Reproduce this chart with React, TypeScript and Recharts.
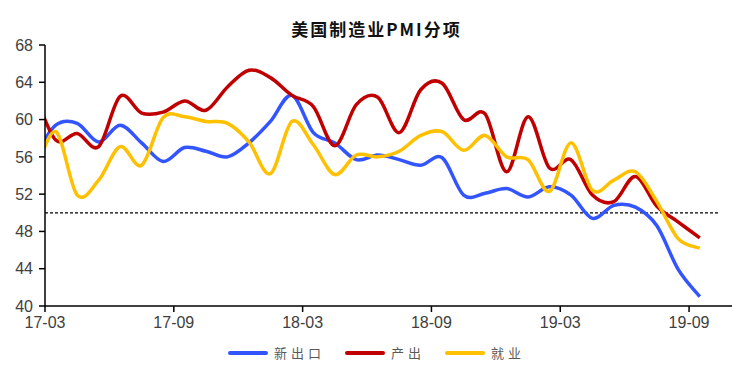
import React from 'react'
import { LineChart, Line, XAxis, YAxis, ReferenceLine } from 'recharts'

// monthly, Feb-17 .. Sep-19 (the Feb-17 point sits left of the axis and is clipped)
const months = [
  '17-02', '17-03', '17-04', '17-05', '17-06', '17-07', '17-08', '17-09', '17-10', '17-11', '17-12',
  '18-01', '18-02', '18-03', '18-04', '18-05', '18-06', '18-07', '18-08', '18-09', '18-10', '18-11', '18-12',
  '19-01', '19-02', '19-03', '19-04', '19-05', '19-06', '19-07', '19-08', '19-09',
]
const newExport = [
  56.0, 59.4, 59.6, 57.6, 59.4, 57.5, 55.5, 57.0, 56.6, 56.0, 57.5,
  59.8, 62.6, 58.6, 57.5, 55.7, 56.2, 55.7, 55.1, 55.9, 51.9, 52.1, 52.6,
  51.7, 52.8, 51.9, 49.4, 50.8, 50.6, 48.6, 43.9, 41.0,
]
const production = [
  62.9, 57.8, 58.5, 57.1, 62.5, 60.7, 60.8, 62.0, 61.0, 63.5, 65.3,
  64.5, 62.6, 61.4, 57.2, 61.6, 62.4, 58.6, 63.2, 63.9, 60.0, 60.6, 54.4,
  60.3, 54.8, 55.7, 51.9, 51.2, 53.9, 50.7, 49.0, 47.3,
]
const employment = [
  54.0, 58.7, 51.9, 53.5, 57.1, 55.1, 60.2, 60.3, 59.8, 59.6, 57.6,
  54.2, 59.8, 57.3, 54.1, 56.2, 56.0, 56.6, 58.3, 58.7, 56.7, 58.3, 56.0,
  55.7, 52.3, 57.5, 52.4, 53.5, 54.4, 51.2, 47.2, 46.2,
]
const tickLabels = ['17-03', '17-09', '18-03', '18-09', '19-03', '19-09']
const yTicks = [40, 44, 48, 52, 56, 60, 64, 68]

const series = [
  { key: 'exp', name: '新出口', color: '#3355FF' },
  { key: 'prod', name: '产出', color: '#C00000' },
  { key: 'emp', name: '就业', color: '#FFC000' },
]

// x = months since 17-03, points plotted mid-month
const data = months.map((m, i) => ({
  m,
  x: i - 0.5,
  exp: newExport[i],
  prod: production[i],
  emp: employment[i],
}))
const tickPos = tickLabels.map((t) => months.indexOf(t) - 1)

// Excel-style smoothed line (Catmull-Rom through every point)
const smooth = (ctx: any) => {
  let pts: number[][] = []
  return {
    areaStart() {},
    areaEnd() {},
    lineStart() { pts = [] },
    point(x: number, y: number) { pts.push([+x, +y]) },
    lineEnd() {
      if (!pts.length) return
      ctx.moveTo(pts[0][0], pts[0][1])
      const k = 1 / 6
      for (let i = 0; i < pts.length - 1; i++) {
        const p0 = pts[i - 1] || pts[i]
        const p1 = pts[i]
        const p2 = pts[i + 1]
        const p3 = pts[i + 2] || p2
        ctx.bezierCurveTo(
          p1[0] + (p2[0] - p0[0]) * k, p1[1] + (p2[1] - p0[1]) * k,
          p2[0] - (p3[0] - p1[0]) * k, p2[1] - (p3[1] - p1[1]) * k,
          p2[0], p2[1],
        )
      }
    },
  }
}

const axisFont = { fontFamily: 'Liberation Sans, Arial, sans-serif', fontSize: 16, fill: '#404040' }

export default function App() {
  return (
    <div style={{ position: 'absolute', left: 0, top: 0, width: 753, height: 380, background: '#fff' }}>
      <div
        style={{
          position: 'absolute', top: 18, left: 0, width: 753, textAlign: 'center',
          fontFamily: '"Noto Sans CJK SC", sans-serif', fontWeight: 700, fontSize: 17,
          letterSpacing: 2, color: '#111', lineHeight: '22px',
        }}
      >
        美国制造业PMI分项
      </div>
      <LineChart width={753} height={380} data={data} margin={{ top: 45, right: 21, bottom: 44, left: 0 }}>
        <XAxis
          type="number"
          dataKey="x"
          domain={[0, 32]}
          allowDataOverflow
          ticks={tickPos}
          tickFormatter={(v) => tickLabels[tickPos.indexOf(v)] ?? ''}
          height={30}
          stroke="#000"
          strokeWidth={1.5}
          tickSize={6}
          tickMargin={5}
          tick={axisFont}
          tickLine={{ stroke: '#000' }}
        />
        <YAxis
          domain={[40, 68]}
          ticks={yTicks}
          allowDataOverflow
          width={45}
          stroke="#000"
          strokeWidth={1.5}
          tickSize={6}
          tickMargin={6}
          tick={axisFont}
          tickLine={{ stroke: '#000' }}
        />
        <ReferenceLine
          segment={[{ x: 0, y: 50 }, { x: 31.4, y: 50 }]}
          stroke="#000"
          strokeWidth={1.3}
          strokeDasharray="3 2"
        />
        {series.map((s) => (
          <Line
            key={s.key}
            type={smooth as any}
            dataKey={s.key}
            name={s.name}
            stroke={s.color}
            strokeWidth={3.5}
            dot={false}
            isAnimationActive={false}
          />
        ))}
      </LineChart>
      <div
        style={{
          position: 'absolute', top: 343, left: 0, width: 753, display: 'flex', justifyContent: 'center',
          gap: 20, fontFamily: '"Noto Sans CJK SC", sans-serif', fontSize: 13, color: '#595959', letterSpacing: 4,
        }}
      >
        {series.map((s) => (
          <div key={s.key} style={{ display: 'flex', alignItems: 'center', gap: 6 }}>
            <span style={{ width: 40, height: 4, borderRadius: 2, background: s.color, display: 'inline-block' }} />
            <span>{s.name}</span>
          </div>
        ))}
      </div>
    </div>
  )
}
